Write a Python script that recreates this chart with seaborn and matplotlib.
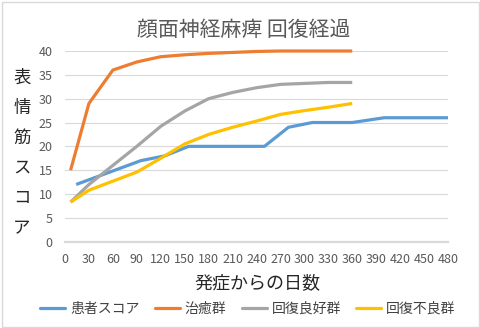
import matplotlib
matplotlib.use("Agg")
import matplotlib.pyplot as plt
import seaborn as sns
import pandas as pd
from matplotlib.patches import Rectangle

# ---- data ----
std_days = [7, 30, 60, 90, 120, 150, 180, 210, 240, 270, 300, 330, 360]
cured = [15, 29, 36, 37.7, 38.8, 39.2, 39.5, 39.7, 39.9, 40, 40, 40, 40]
good = [8.3, 12, 16, 20, 24.2, 27.4, 30, 31.3, 32.3, 33, 33.2, 33.4, 33.4]
poor = [8.3, 10.8, 12.7, 14.6, 17.5, 20.5, 22.5, 24, 25.3, 26.7, 27.5, 28.2, 29]
patient_days = [14, 95, 125, 155, 250, 280, 310, 360, 400, 480]
patient = [12, 17, 18, 20, 20, 24, 25, 25, 26, 26]

series_names = ["患者スコア", "治癒群", "回復良好群", "回復不良群"]
colors = ["#5B9BD5", "#ED7D31", "#A5A5A5", "#FFC000"]
x_ticks = list(range(0, 481, 30))
y_ticks = list(range(0, 41, 5))

title = "顔面神経麻痺 回復経過"
xlabel = "発症からの日数"
ylabel = "表情筋スコア"

rows = []
for d, v in zip(patient_days, patient):
    rows.append((series_names[0], d, v))
for name, vals in zip(series_names[1:], [cured, good, poor]):
    for d, v in zip(std_days, vals):
        rows.append((name, d, v))
df = pd.DataFrame(rows, columns=["series", "day", "score"])

sns.set_theme(style="white")
plt.rcParams["font.family"] = ["Noto Sans CJK JP", "DejaVu Sans"]

fig = plt.figure(figsize=(4.8, 3.28), dpi=100)
W, H = 480, 328
ax = fig.add_axes([65 / W, 1 - 241.7 / H, (448 - 65) / W, (241.7 - 51) / H])

sns.lineplot(data=df, x="day", y="score", hue="series", hue_order=series_names,
             palette=colors, linewidth=2.3, ax=ax, legend=False, sort=True,
             estimator=None)
for ln in ax.lines:
    ln.set_clip_on(False)
    ln.set_solid_joinstyle("round")
    ln.set_solid_capstyle("butt")

ax.set_xlim(0, 480)
ax.set_ylim(0, 40)
ax.set_xticks(x_ticks)
ax.set_yticks(y_ticks)
ax.tick_params(axis="both", length=0, labelsize=9, labelcolor="#595959")
ax.tick_params(axis="x", pad=8)
ax.tick_params(axis="y", pad=9)
ax.grid(axis="y", color="#D9D9D9", linewidth=0.8)
ax.grid(axis="x", visible=False)
ax.set_axisbelow(True)
for s in ["top", "right", "left"]:
    ax.spines[s].set_visible(False)
ax.spines["bottom"].set_color("#D9D9D9")
ax.spines["bottom"].set_linewidth(1.6)
ax.set_xlabel("")
ax.set_ylabel("")

fig.text(244 / W, 1 - 30 / H, title, ha="center", va="center", fontsize=15, color="#595959")
fig.text(257 / W, 1 - 283 / H, xlabel, ha="center", va="center", fontsize=13, color="#262626")
for i, ch in enumerate(ylabel):
    fig.text(22 / W, 1 - (78 + i * 30) / H, ch, ha="center", va="center", fontsize=12.5, color="#262626")

handles = [plt.Line2D([], [], color=c, linewidth=2.3) for c in colors]
leg = fig.legend(handles, series_names, loc="center", bbox_to_anchor=(248 / W, 1 - 309 / H),
                 ncol=4, frameon=False, fontsize=10, handlelength=1.8, handletextpad=0.35,
                 columnspacing=1.1, borderpad=0)
for t in leg.get_texts():
    t.set_color("#404040")

fig.patches.append(Rectangle((1.5 / W, 1.5 / H), (W - 3) / W, (H - 3) / H, transform=fig.transFigure,
                             fill=False, edgecolor="#D9D9D9", linewidth=1))

fig.savefig("out.png", dpi=100)
